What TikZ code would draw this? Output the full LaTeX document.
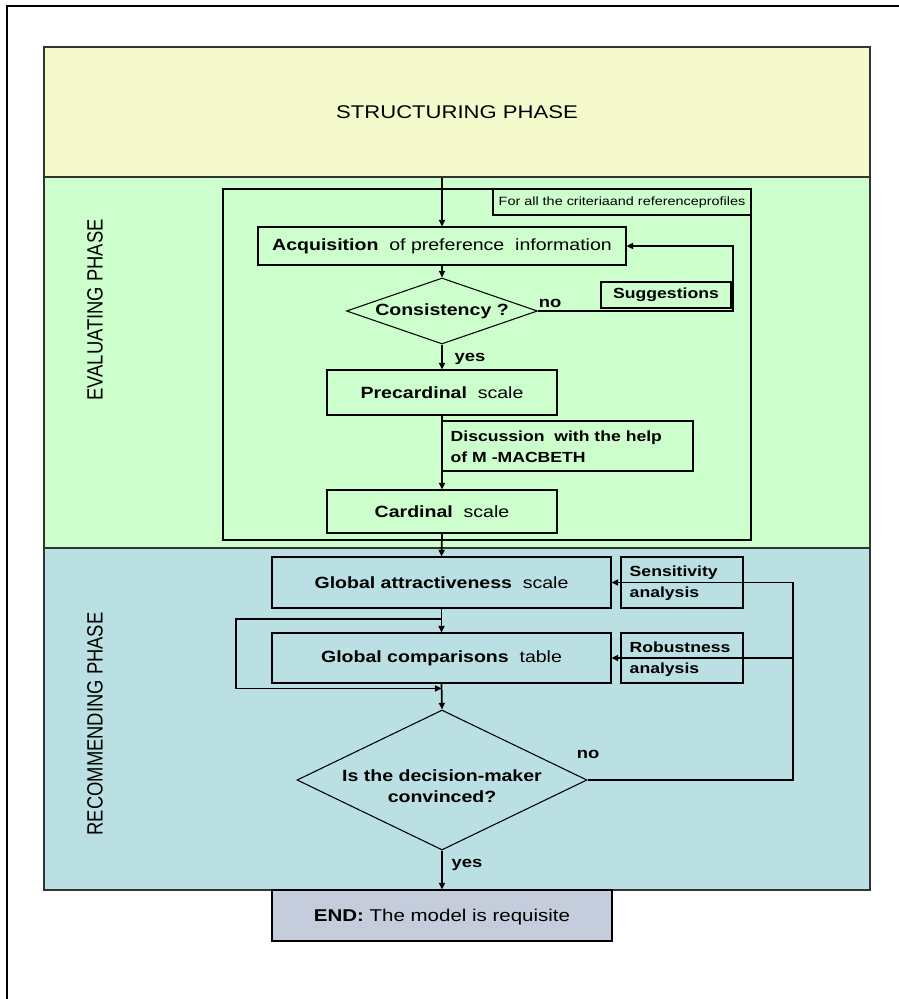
\documentclass[tikz,border=0pt]{standalone}
\usepackage{fontspec}
\setmainfont{Liberation Sans}[FakeStretch=1.2]
\newfontfamily\plainsans{Liberation Sans}
\usepackage{graphicx}
\usetikzlibrary{fit,shapes.geometric,arrows.meta,calc}
\definecolor{phyellow}{RGB}{245,250,205}
\definecolor{phgreen}{RGB}{204,255,204}
\definecolor{phblue}{RGB}{187,224,227}
\definecolor{endfill}{RGB}{197,205,220}
\tikzset{
  panel/.style={draw=black!80, line width=0.9pt, inner sep=0pt},
  boxst/.style={draw=black, line width=0.8pt, inner sep=0pt},
  diam/.style={draw=black, line width=0.8pt, diamond, inner sep=0pt},
  conn/.style={line width=1.3pt, -{Triangle[length=5pt,width=4.5pt]}},
  lbl/.style={font=\fontsize{11.5}{13}\selectfont\bfseries},
  maintext/.style={inner sep=0pt, font=\fontsize{12.2}{14}\selectfont},
  sidetext/.style={inner sep=0pt, anchor=west, font=\fontsize{11}{15.5}\selectfont\bfseries, align=left},
  phasetext/.style={inner sep=0pt, font=\fontsize{13.8}{16}\selectfont},
  rotphase/.style={rotate=90, font=\plainsans\fontsize{13.8}{16}\selectfont}
}
\begin{document}
\begin{tikzpicture}[x=0.75pt,y=-0.75pt]
\useasboundingbox (0,0) rectangle (899,999);
\fill[white] (0,0) rectangle (899,999);
% outer frame
\draw[line width=1.2pt] (7,999) -- (7,6) -- (899,6);
% phase panels
\node[panel, fill=phyellow, fit={(44,47)(870,177)}] (struct) {};
\node[phasetext] (structt) at (struct.center) {STRUCTURING PHASE};
\node[panel, fill=phgreen, fit={(44,177)(870,548)}] (evalp) {};
\node[panel, fill=phblue, fit={(44,548)(870,890)}] (recp) {};
\node[rotphase] (evallbl) at (95,310) {\scalebox{1}[1.2]{EVALUATING PHASE}};
\node[rotphase] (reclbl) at (95,724) {\scalebox{1}[1.2]{RECOMMENDING PHASE}};
% evaluating phase
\node[boxst, fit={(223,189)(751,540)}] (inner) {};
\node[boxst, fit={(493,189)(751,215)}] (forall) {};
\node[inner sep=0pt, font=\fontsize{9}{10}\selectfont] (forallt) at (forall.center) {For all the criteriaand referenceprofiles};
\node[boxst, fit={(258,227)(626,265)}] (acq) {};
\node[maintext] (acqt) at (acq.center) {\textbf{Acquisition}\ \ of preference\ \ information};
\node[diam, minimum width=143.25pt, minimum height=49.5pt, shape aspect=2.9] (cons) at (442,311) {};
\node[maintext] (const) at (cons.center) {\textbf{Consistency ?}};
\node[boxst, fit={(601,282)(731,308)}] (sugg) {};
\node[inner sep=0pt, font=\fontsize{11}{13}\selectfont\bfseries] (suggt) at (sugg.center) {Suggestions};
\node[lbl] (no1) at (550,303) {no};
\node[lbl] (yes1) at (470,359) {yes};
\node[boxst, fit={(327,370)(557,415)}] (pre) {};
\node[maintext] (pret) at (pre.center) {\textbf{Precardinal}\ \ scale};
\node[boxst, fit={(442,421)(693,471)}] (disc) {};
\node[sidetext] (disct) at ($(disc.west)+(9,1)$) {Discussion\ \ with the help\\of M -MACBETH};
\node[boxst, fit={(327,490)(557,533)}] (card) {};
\node[maintext] (cardt) at (card.center) {\textbf{Cardinal}\ \ scale};
% recommending phase
\node[boxst, fit={(272,557)(611,608)}] (ga) {};
\node[maintext] (gat) at (ga.center) {\textbf{Global attractiveness}\ \ scale};
\node[boxst, fit={(621,557)(743,608)}] (sens) {};
\node[sidetext] (senst) at ($(sens.west)+(9,1)$) {Sensitivity\\analysis};
\node[boxst, fit={(272,633)(611,683)}] (gc) {};
\node[maintext] (gct) at (gc.center) {\textbf{Global comparisons}\ \ table};
\node[boxst, fit={(621,633)(743,683)}] (rob) {};
\node[sidetext] (robt) at ($(rob.west)+(9,1)$) {Robustness\\analysis};
\node[diam, minimum width=217.5pt, minimum height=105pt, shape aspect=2.07] (dec) at (442,780) {};
\node[inner sep=0pt, align=center, font=\fontsize{12.2}{16}\selectfont\bfseries] (dect) at ($(dec.center)+(0,6)$) {Is the decision-maker\\convinced?};
\node[lbl] (no2) at (588,754) {no};
\node[lbl] (yes2) at (467,865) {yes};
\node[boxst, fill=endfill, fit={(272,890)(612,941)}] (endb) {};
\node[inner sep=0pt, font=\fontsize{12.8}{15}\selectfont] (endt) at ($(endb.center)+(0,2)$) {\textbf{END:}\ The model is requisite};
% connectors, evaluating phase
\coordinate (fbx) at (733,0);
\draw[conn] (struct.south -| acq.north) -- (acq.north);
\draw[conn] (acq.south) -- (cons.north);
\draw[conn] (cons.east) -- (cons.east -| fbx) |- (acq.east);
\draw[conn] (cons.south) -- (pre.north);
\draw[conn] (pre.south) -- (card.north);
\draw[conn] (card.south) -- (ga.north);
% connectors, recommending phase
\coordinate (lpx) at (236,0);
\coordinate (rx) at (793,0);
\coordinate (lp1) at ($(ga.south)!0.44!(gc.north)$);
\coordinate (lp2) at ($(gc.south)!0.19!(dec.north)$);
\draw[conn] (ga.south) -- (gc.north);
\draw[conn] (gc.south) -- (dec.north);
\draw[conn] (lp1) -- (lp1 -| lpx) |- (lp2);
\draw[conn] (dec.east) -| (rx |- ga.east) -- (ga.east);
\draw[conn] (rx |- gc.east) -- (gc.east);
\draw[conn] (dec.south) -- (endb.north);
\end{tikzpicture}
\end{document}
